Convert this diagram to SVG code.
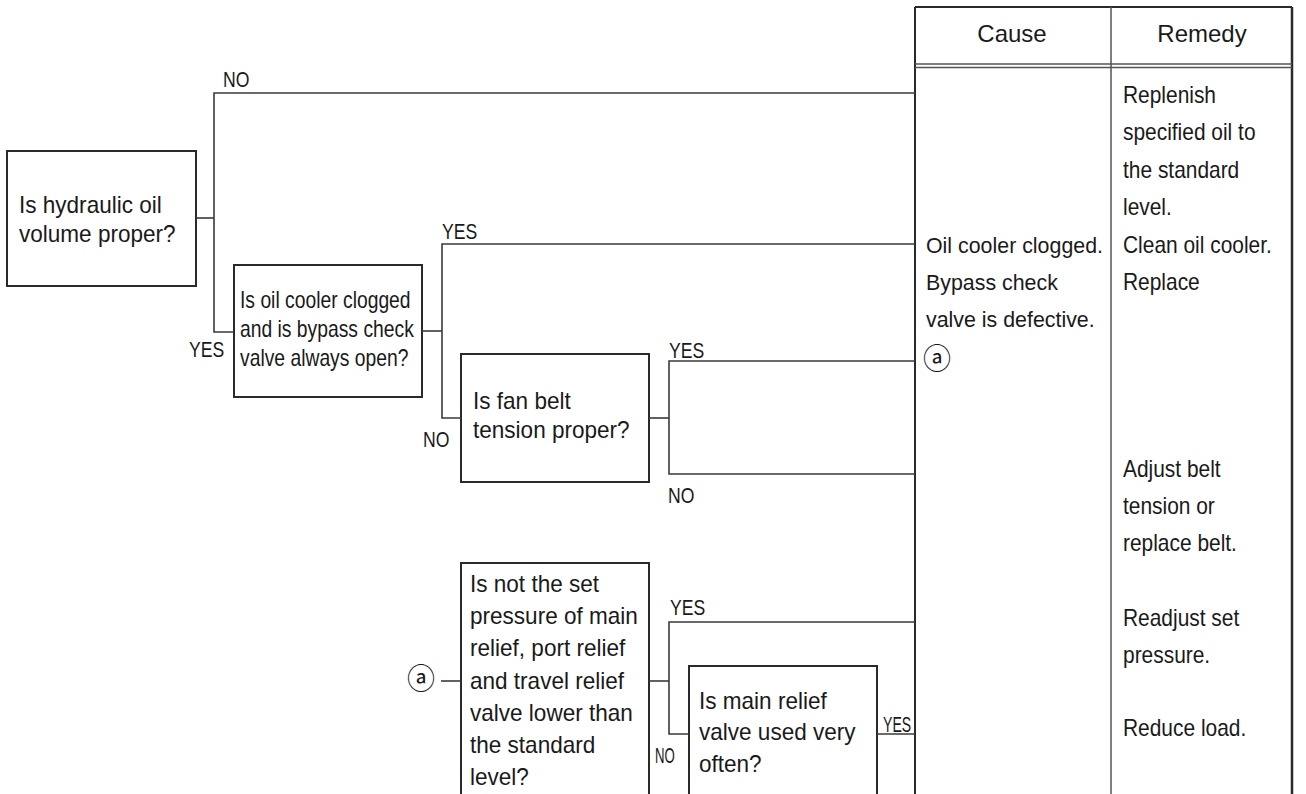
<svg xmlns="http://www.w3.org/2000/svg" width="1306" height="794" viewBox="0 0 1306 794">
<style>
.box{fill:#fff;stroke:#2a2a2a;stroke-width:2}
.conn{fill:none;stroke:#3a3a3a;stroke-width:1.6}
.tbl{fill:none;stroke:#2a2a2a;stroke-width:2}
.tbl2{fill:none;stroke:#555;stroke-width:1.5}
.t{font-family:"Liberation Sans",Arial,Helvetica,sans-serif;font-size:23px;fill:#1a1a1a}
.lbl{font-size:22px}
.hd{font-size:24px;text-anchor:middle}
.circ{font-family:"Noto Sans CJK JP","DejaVu Sans",sans-serif;font-size:28px;fill:#1a1a1a;text-anchor:middle}
</style>
<rect width="1306" height="794" fill="#fff"/>

<g id="table">
  <line class="tbl" x1="915" y1="7" x2="1292" y2="7"/>
  <line class="tbl" x1="915" y1="7" x2="915" y2="794"/>
  <line class="tbl2" x1="1111" y1="7" x2="1111" y2="794"/>
  <line class="tbl" x1="1292" y1="7" x2="1292" y2="794" style="stroke-width:2.5"/>
  <line class="tbl2" x1="915" y1="64" x2="1292" y2="64"/>
  <line class="tbl2" x1="915" y1="67.5" x2="1292" y2="67.5"/>
  <text class="t hd" x="1012" y="42">Cause</text>
  <text class="t hd" x="1202" y="42">Remedy</text>
</g>

<g id="cause">
  <text class="t" transform="translate(926,253) scale(0.93,1)"><tspan x="0" y="0">Oil cooler clogged.</tspan><tspan x="0" y="37">Bypass check</tspan><tspan x="0" y="74">valve is defective.</tspan></text>
  <text class="circ" x="937" y="369">ⓐ</text>
</g>

<g id="remedy">
  <text class="t" transform="translate(1123,103) scale(0.91,1)"><tspan x="0" y="0">Replenish</tspan><tspan x="0" y="37.4">specified oil to</tspan><tspan x="0" y="74.8">the standard</tspan><tspan x="0" y="112.2">level.</tspan><tspan x="0" y="149.6">Clean oil cooler.</tspan><tspan x="0" y="187">Replace</tspan></text>
  <text class="t" transform="translate(1123,477) scale(0.91,1)"><tspan x="0" y="0">Adjust belt</tspan><tspan x="0" y="37">tension or</tspan><tspan x="0" y="74">replace belt.</tspan></text>
  <text class="t" transform="translate(1123,626) scale(0.91,1)"><tspan x="0" y="0">Readjust set</tspan><tspan x="0" y="37">pressure.</tspan></text>
  <text class="t" transform="translate(1123,736) scale(0.91,1)">Reduce load.</text>
</g>

<g id="q1">
  <rect class="box" x="7" y="151" width="189" height="135"/>
  <text class="t" transform="translate(19,213) scale(0.98,1)"><tspan x="0" y="0">Is hydraulic oil</tspan><tspan x="0" y="29">volume proper?</tspan></text>
</g>

<g id="q2">
  <rect class="box" x="234" y="265" width="188" height="132"/>
  <text class="t" transform="translate(240,308) scale(0.84,1)"><tspan x="0" y="0">Is oil cooler clogged</tspan><tspan x="0" y="29">and is bypass check</tspan><tspan x="0" y="58">valve always open?</tspan></text>
</g>

<g id="q3">
  <rect class="box" x="461" y="354" width="188" height="128"/>
  <text class="t" transform="translate(473,409) scale(0.98,1)"><tspan x="0" y="0">Is fan belt</tspan><tspan x="0" y="29">tension proper?</tspan></text>
</g>

<g id="q4">
  <rect class="box" x="461" y="563" width="188" height="240"/>
  <text class="t" transform="translate(470,592) scale(0.98,1)"><tspan x="0" y="0">Is not the set</tspan><tspan x="0" y="32.2">pressure of main</tspan><tspan x="0" y="64.4">relief, port relief</tspan><tspan x="0" y="96.6">and travel relief</tspan><tspan x="0" y="128.8">valve lower than</tspan><tspan x="0" y="161">the standard</tspan><tspan x="0" y="193.2">level?</tspan></text>
</g>

<g id="q5">
  <rect class="box" x="689" y="666" width="188" height="140"/>
  <text class="t" transform="translate(699,709) scale(0.98,1)"><tspan x="0" y="0">Is main relief</tspan><tspan x="0" y="31.5">valve used very</tspan><tspan x="0" y="63">often?</tspan></text>
</g>

<g id="ref-a">
  <text class="circ" x="421" y="689">ⓐ</text>
</g>

<g id="connectors">
  <polyline class="conn" points="196,218 214,218"/>
  <polyline class="conn" points="915,93 214,93 214,332 234,332"/>
  <polyline class="conn" points="422,331 442,331"/>
  <polyline class="conn" points="915,244 442,244 442,418 461,418"/>
  <polyline class="conn" points="649,418 669,418"/>
  <polyline class="conn" points="915,361 669,361 669,474 915,474"/>
  <polyline class="conn" points="441,681 461,681"/>
  <polyline class="conn" points="649,681 669,681"/>
  <polyline class="conn" points="915,622 669,622 669,734 689,734"/>
  <polyline class="conn" points="877,734 915,734"/>
  <text class="t lbl" transform="translate(223,87) scale(0.8,1)">NO</text>
  <text class="t lbl" transform="translate(189,357) scale(0.8,1)">YES</text>
  <text class="t lbl" transform="translate(442,239) scale(0.8,1)">YES</text>
  <text class="t lbl" transform="translate(423,447) scale(0.8,1)">NO</text>
  <text class="t lbl" transform="translate(669,358) scale(0.8,1)">YES</text>
  <text class="t lbl" transform="translate(668,503) scale(0.8,1)">NO</text>
  <text class="t lbl" transform="translate(670,615) scale(0.8,1)">YES</text>
  <text class="t lbl" transform="translate(883,732) scale(0.64,1)">YES</text>
  <text class="t lbl" transform="translate(655,763) scale(0.6,1)">NO</text>
</g>
</svg>
